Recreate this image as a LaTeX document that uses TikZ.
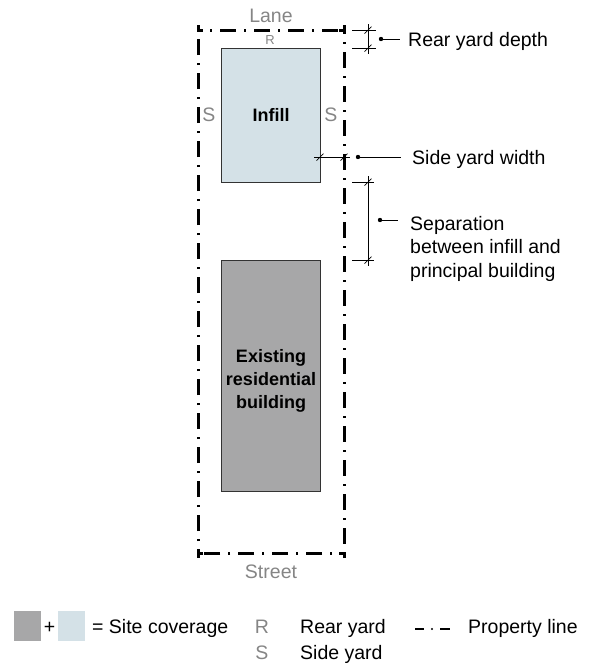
\documentclass[tikz,border=0pt]{standalone}
\usepackage{fontspec}
\setmainfont{Liberation Sans}
\definecolor{bldgray}{HTML}{A7A7A8}
\definecolor{infillblue}{HTML}{D4E1E7}
\definecolor{labelgray}{HTML}{858585}
\definecolor{outline}{HTML}{333333}
\begin{document}
\begin{tikzpicture}[x=1pt,y=-1pt,
  txt/.style={inner sep=0pt, font=\fontsize{19.5}{23.5}\selectfont},
  graytxt/.style={txt, text=labelgray},
  boldtxt/.style={inner sep=0pt, font=\fontsize{18}{23}\selectfont\bfseries, align=center},
  propline/.style={line width=3pt, dash pattern=on 16pt off 8pt on 2pt off 8pt, dash phase=12pt},
  propcorner/.style={line width=3pt, line join=miter},
  dimline/.style={line width=0.7pt, black},
  tickmark/.pic={\draw[line width=0.7pt] (-3.5,3.5)--(3.5,-3.5);},
  leaderdot/.style={circle, fill=black, inner sep=0pt, minimum size=4.4pt},
  bldbox/.style={draw=outline, line width=1pt, inner sep=0pt}
]
\useasboundingbox (0,0) rectangle (595,665);

% property line
\coordinate (pTL) at (198,30); \coordinate (pTR) at (344,30);
\coordinate (pBR) at (344,553); \coordinate (pBL) at (198,553);
\draw[propline] (pTL) -- (pTR);
\draw[propline] (pTR) -- (pBR);
\draw[propline] (pBR) -- (pBL);
\draw[propline] (pBL) -- (pTL);
\draw[propcorner] ([yshift=5pt]pTL) -- (pTL) -- ([xshift=5pt]pTL);
\draw[propcorner] ([xshift=-5pt]pTR) -- (pTR) -- ([yshift=5pt]pTR);
\draw[propcorner] ([yshift=-5pt]pBR) -- (pBR) -- ([xshift=-5pt]pBR);
\draw[propcorner] ([xshift=5pt]pBL) -- (pBL) -- ([yshift=-5pt]pBL);

% buildings
\node[bldbox, fill=infillblue, minimum width=99pt, minimum height=134pt] (infill) at (270.5,115) {};
\node[boldtxt, anchor=base] (infilltxt) at (271,121.5) {Infill};
\node[bldbox, fill=bldgray, minimum width=99pt, minimum height=231pt] (bldg) at (270.5,375.5) {};
\node[boldtxt, anchor=base] (bldgtxt) at (271,408) {Existing\\residential\\building};

% gray labels
\node[graytxt, anchor=base] (lane) at (271,22) {Lane};
\node[graytxt, anchor=base] (street) at (271,578) {Street};
\node[inner sep=0pt, text=labelgray, font=\fontsize{13}{15}\selectfont, anchor=base] (rlab) at (270,44) {R};
\node[graytxt, anchor=base] (sleft) at (209,121) {S};
\node[graytxt, anchor=base] (sright) at (331,121) {S};

% rear yard depth
\coordinate (rdA1) at (352,30); \coordinate (rdA2) at (376,30);
\coordinate (rdB1) at (352,48); \coordinate (rdB2) at (376,48);
\coordinate (rdV1) at (368,24); \coordinate (rdV2) at (368,54);
\draw[dimline] (rdA1) -- (rdA2);
\draw[dimline] (rdB1) -- (rdB2);
\draw[dimline] (rdV1) -- (rdV2);
\pic at (368,30) {tickmark};
\pic at (368,48) {tickmark};
\node[leaderdot] (rdDot) at (381,39) {};
\coordinate (rdEnd) at (400,39);
\draw[dimline] (rdDot) -- (rdEnd);
\node[txt, anchor=base west] (rdText) at (408,46) {Rear yard depth};

% side yard width
\coordinate (swA) at (314,157); \coordinate (swB) at (350,157);
\draw[dimline] (swA) -- (swB);
\pic at (320,157) {tickmark};
\pic at (344,157) {tickmark};
\node[leaderdot] (swDot) at (358,157) {};
\coordinate (swEnd) at (401,157);
\draw[dimline] (swDot) -- (swEnd);
\node[txt, anchor=base west] (swText) at (412,164) {Side yard width};

% separation
\coordinate (spA1) at (352,182); \coordinate (spA2) at (374,182);
\coordinate (spB1) at (352,260); \coordinate (spB2) at (374,260);
\coordinate (spV1) at (368,176); \coordinate (spV2) at (368,266);
\draw[dimline] (spA1) -- (spA2);
\draw[dimline] (spB1) -- (spB2);
\draw[dimline] (spV1) -- (spV2);
\pic at (368,182) {tickmark};
\pic at (368,260) {tickmark};
\node[leaderdot] (spDot) at (380,220) {};
\coordinate (spEnd) at (398,220);
\draw[dimline] (spDot) -- (spEnd);
\node[txt, anchor=base west, align=left] (spText) at (410,277) {Separation\\between infill and\\principal building};

% legend
\node[fill=bldgray, inner sep=0pt, minimum width=27pt, minimum height=30pt] (lgGray) at (27.5,626) {};
\node[txt, anchor=base] (lgPlus) at (49.5,633) {+};
\node[fill=infillblue, inner sep=0pt, minimum width=27pt, minimum height=30pt] (lgBlue) at (71.5,626) {};
\node[txt, anchor=base west] (lgCov) at (92,633) {= Site coverage};
\node[graytxt, anchor=base] (lgR) at (262,633) {R};
\node[txt, anchor=base west] (lgRear) at (300,633) {Rear yard};
\node[graytxt, anchor=base] (lgS) at (262,659) {S};
\node[txt, anchor=base west] (lgSide) at (300,659) {Side yard};
\coordinate (lgP1) at (415,629); \coordinate (lgP2) at (424,629);
\coordinate (lgP3) at (440,629); \coordinate (lgP4) at (450,629);
\draw[line width=2.4pt] (lgP1) -- (lgP2);
\draw[line width=2.4pt] (lgP3) -- (lgP4);
\node[circle, fill=black, inner sep=0pt, minimum size=2.4pt] (lgDot) at (432,629) {};
\node[txt, anchor=base west] (lgProp) at (468,633) {Property line};
\end{tikzpicture}
\end{document}
